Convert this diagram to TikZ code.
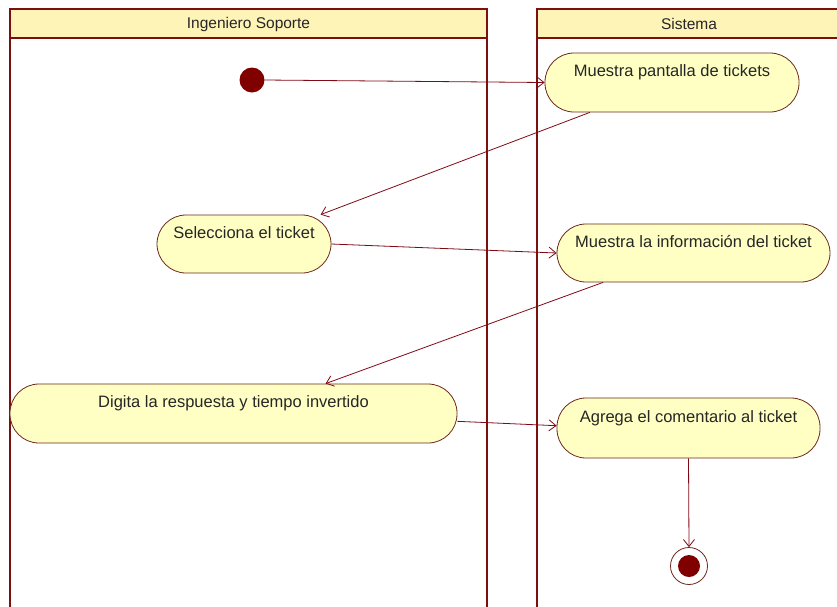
\documentclass[tikz,border=0pt]{standalone}
\usepackage{fontspec}
\setmainfont{Liberation Sans}
\usetikzlibrary{arrows.meta}
\definecolor{lane}{RGB}{122,16,16}
\definecolor{hdr}{RGB}{255,244,184}
\definecolor{actfill}{RGB}{255,255,196}
\definecolor{actdraw}{RGB}{110,40,30}
\definecolor{flow}{RGB}{128,10,20}
\definecolor{dot}{RGB}{128,0,0}
\tikzset{
  lanebox/.style={draw=lane, line width=1.6pt},
  hdrbox/.style={draw=lane, line width=1.6pt, fill=hdr},
  hdrtext/.style={font=\fontsize{15.5}{18}\selectfont, text=black!85},
  act/.style={draw=actdraw, line width=0.8pt, fill=actfill, rounded corners=29pt,
    rectangle, align=center, inner sep=0pt, font=\fontsize{16.5}{18}\selectfont, text=black!85},
  flowline/.style={draw=flow, line width=0.8pt, -{Straight Barb[length=7pt,width=11pt]}},
  startdot/.style={circle, fill=dot, minimum size=25pt, inner sep=0pt},
  enddot/.style={circle, fill=dot, minimum size=22pt, inner sep=0pt},
  endring/.style={circle, draw=actdraw, line width=0.8pt, fill=white, minimum size=37pt, inner sep=0pt}
}
\begin{document}
\begin{tikzpicture}[x=1pt,y=-1pt]
\useasboundingbox (0,0) rectangle (837,606);
\fill[white] (0,0) rectangle (837,606);
\begin{scope}
\clip (0,0) rectangle (837,606);
% lanes
\draw[lanebox] (10,9) rectangle (487,640);
\draw[hdrbox] (10,9) rectangle (487,38);
\draw[lanebox] (537,9) rectangle (860,640);
\draw[hdrbox] (537,9) rectangle (860,38);
\end{scope}
\node[hdrtext] (h1) at (248.5,24) {Ingeniero Soporte};
\node[hdrtext] (h2) at (689,24) {Sistema};
% nodes
\node[startdot] (ini) at (252,80) {};
\node[act, minimum width=254pt, minimum height=59pt] (mp) at (672,82.5) {Muestra pantalla de tickets\\ \strut};
\node[act, minimum width=174pt, minimum height=58pt] (sel) at (244,244) {Selecciona el ticket\\ \strut};
\node[act, minimum width=273pt, minimum height=58pt] (mi) at (693.5,253) {Muestra la información del ticket\\ \strut};
\node[act, minimum width=447pt, minimum height=59pt] (dig) at (233.5,413.5) {Digita la respuesta y tiempo invertido\\ \strut};
\node[act, minimum width=263pt, minimum height=60pt] (ag) at (688.5,428) {Agrega el comentario al ticket\\ \strut};
\node[endring] (fin) at (689,566) {};
\node[enddot] (finc) at (fin.center) {};
% flows
\draw[flowline] (ini.east) -- (mp.west);
\draw[flowline] (mp.200) -- (sel.21);
\draw[flowline] (sel.east) -- (mi.west);
\draw[flowline] (mi.198) -- (dig.18);
\draw[flowline] (dig.-2) -- (ag.179);
\draw[flowline] (ag.south) -- (fin.north);
\end{tikzpicture}
\end{document}
